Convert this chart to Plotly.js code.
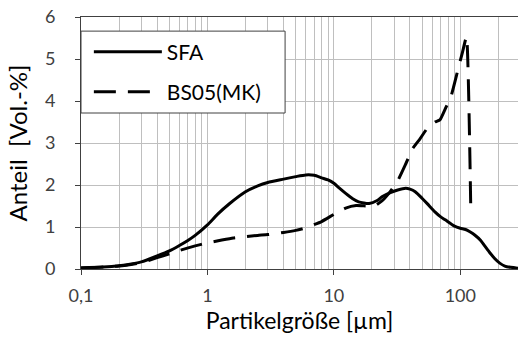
<!DOCTYPE html>
<html><head><meta charset="utf-8">
<script src="https://cdn.plot.ly/plotly-3.0.1.min.js"></script>
<style>html,body{margin:0;padding:0;background:#fff;}#chart{width:519px;height:337px;}</style>
</head><body><div id="chart"></div>
<script>
// SFA (solid)
const sfaX = [0.1,0.15,0.2,0.25,0.3,0.4,0.5,0.6,0.7,0.8,1,1.2,1.5,2,2.5,3,4,5,6,7,8,9,10,11,12.4,14,15.7,19,22,24,28,32,37,40,44,50,55,63,70,76,90,100,110,120,130,145,156,170,187,205,225,250,270,286];
const sfaY = [0.03,0.05,0.08,0.12,0.17,0.31,0.43,0.56,0.68,0.8,1.05,1.3,1.56,1.84,1.98,2.06,2.14,2.2,2.24,2.23,2.17,2.12,2.04,1.93,1.8,1.68,1.6,1.56,1.63,1.72,1.82,1.88,1.92,1.9,1.84,1.68,1.55,1.36,1.24,1.17,1.02,0.97,0.94,0.88,0.81,0.68,0.55,0.4,0.25,0.14,0.07,0.04,0.03,0.02];
// BS05(MK) (dashed)
const bsX = [0.1,0.2,0.3,0.4,0.5,0.6,0.8,1,1.3,1.6,2,2.5,3,4,5,6,8,10,12.4,15,18,21,24,28,32,37,42,48,56,63,69,77,85,95,104,112,121];
const bsY = [0.02,0.07,0.15,0.27,0.36,0.44,0.55,0.62,0.69,0.74,0.77,0.8,0.82,0.87,0.92,0.98,1.13,1.3,1.45,1.51,1.5,1.5,1.62,1.85,2.1,2.5,2.87,3.1,3.39,3.5,3.55,3.85,4.14,4.7,5.16,5.53,1.43];
const seriesNames = ["SFA","BS05(MK)"];
const xTickVals = [0.1,1,10,100];
const xTickText = ["0,1","1","10","100"];
const yTickVals = [0,1,2,3,4,5,6];

const FONT = "Lato, 'Open Sans', sans-serif";
const traces = [
  {x: sfaX, y: sfaY, name: seriesNames[0], mode: "lines", line: {color: "#000", width: 3, shape: "spline", smoothing: 0.6}, legend: "legend"},
  {x: bsX, y: bsY, name: seriesNames[1], mode: "lines", line: {color: "#000", width: 3, dash: "22px,12px", shape: "spline", smoothing: 0.4}, legend: "legend2"}
];
const legendCommon = {bgcolor: "rgba(0,0,0,0)", borderwidth: 0, font: {family: FONT, size: 21, color: "#000"}, itemwidth: 68, xanchor: "left", yanchor: "middle", x: 0.018};
const layout = {
  width: 519, height: 337,
  margin: {l: 81, r: 1, t: 17, b: 68},
  paper_bgcolor: "#fff", plot_bgcolor: "#fff",
  font: {family: FONT, color: "#000"},
  showlegend: true,
  legend: Object.assign({}, legendCommon, {y: 0.861}),
  legend2: Object.assign({}, legendCommon, {y: 0.702}),
  xaxis: {
    type: "log", range: [-1, Math.log10(286)],
    tickvals: xTickVals, ticktext: xTickText,
    ticks: "outside", ticklen: 5, tickcolor: "#404040",
    ticklabelstandoff: 5,
    showline: true, linecolor: "#404040", linewidth: 1, mirror: true,
    showgrid: true, gridcolor: "#bfbfbf", gridwidth: 1,
    minor: {dtick: "D1", showgrid: true, gridcolor: "#bfbfbf", gridwidth: 1, ticks: ""},
    zeroline: false,
    tickfont: {family: FONT, size: 18, color: "#404040"},
    title: {text: "Partikelgröße [µm]", font: {family: FONT, size: 23, color: "#000"}, standoff: 2}
  },
  yaxis: {
    range: [0, 6], tickvals: yTickVals,
    ticks: "outside", ticklen: 5, tickcolor: "#404040",
    ticklabelstandoff: 16,
    showline: true, linecolor: "#404040", linewidth: 1,
    showgrid: true, gridcolor: "#bfbfbf", gridwidth: 1,
    zeroline: false,
    tickfont: {family: FONT, size: 18, color: "#404040"},
    title: {text: "Anteil  [Vol.-%]", font: {family: FONT, size: 24, color: "#000"}, standoff: 10}
  },
  shapes: [
    {type: "rect", xref: "paper", yref: "paper", x0: 0, x1: 0.467, y0: 0.619, y1: 0.944, line: {color: "#404040", width: 1}, fillcolor: "#fff", layer: "above"}
  ]
};
Plotly.newPlot("chart", traces, layout, {displayModeBar: false, staticPlot: true});
</script></body></html>
